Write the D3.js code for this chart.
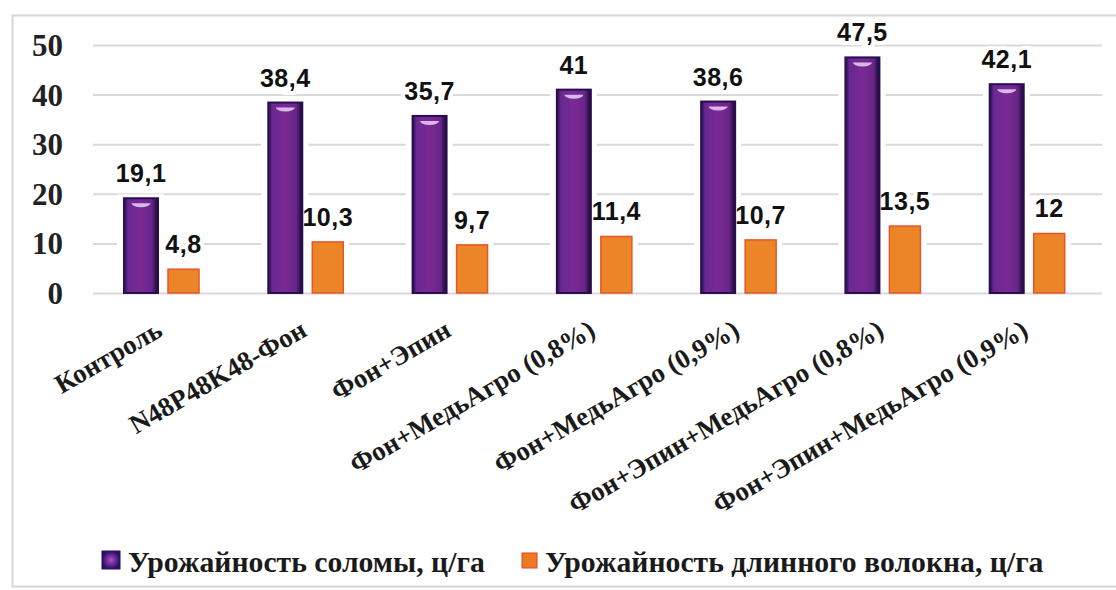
<!doctype html>
<html>
<head>
<meta charset="utf-8">
<title>Урожайность</title>
<script src="https://cdn.jsdelivr.net/npm/d3@7"></script>
<style>
  body { margin: 0; background: #fff; }
  .serif { font-family: "Liberation Serif", "Times New Roman", "DejaVu Serif", serif; font-weight: bold; }
  .sans { font-family: "Liberation Sans", Arial, sans-serif; font-weight: bold; }
</style>
</head>
<body>
<script>
// data
const categories = ["Контроль", "N48P48K48-Фон", "Фон+Эпин", "Фон+МедьАгро (0,8%)",
  "Фон+МедьАгро (0,9%)", "Фон+Эпин+МедьАгро (0,8%)", "Фон+Эпин+МедьАгро (0,9%)"];
const straw = [19.1, 38.4, 35.7, 41, 38.6, 47.5, 42.1];
const fiber = [4.8, 10.3, 9.7, 11.4, 10.7, 13.5, 12];
const seriesNames = ["Урожайность соломы, ц/га", "Урожайность длинного волокна, ц/га"];
const yTicks = [0, 10, 20, 30, 40, 50];

const w = 1116, h = 590;

const svg = d3.select("body").append("svg")
  .attr("width", w).attr("height", h);

svg.append("rect").attr("width", w).attr("height", h).attr("fill", "#fff");

// outer frame
svg.append("rect")
  .attr("x", 12.5).attr("y", 15.5)
  .attr("width", 1130).attr("height", 571)
  .attr("fill", "none").attr("stroke", "#d6d6d6").attr("stroke-width", 2);

const defs = svg.append("defs");
const grad = defs.append("linearGradient").attr("id", "purp");
grad.append("stop").attr("offset", "0%").attr("stop-color", "#24104f");
grad.append("stop").attr("offset", "12%").attr("stop-color", "#6a2892");
grad.append("stop").attr("offset", "50%").attr("stop-color", "#782a94");
grad.append("stop").attr("offset", "82%").attr("stop-color", "#6a258a");
grad.append("stop").attr("offset", "100%").attr("stop-color", "#140830");

const rad = defs.append("radialGradient").attr("id", "purpLeg");
rad.append("stop").attr("offset", "0%").attr("stop-color", "#b04ad0");
rad.append("stop").attr("offset", "100%").attr("stop-color", "#2a1060");

// scales
const x = d3.scaleBand().domain(categories).range([90, 1100]);
const x1 = d3.scaleBand().domain([0, 1]).range([34, 111]).paddingInner(0.25);
const y = d3.scaleLinear().domain([0, 50]).range([293, 45]);

// grid
const grid = svg.append("g")
  .attr("transform", "translate(93,0)")
  .call(d3.axisLeft(y).tickValues(yTicks).tickSize(-(1102 - 93)).tickFormat(""));
grid.select(".domain").remove();
grid.selectAll("line").attr("stroke", "#d9d9d9").attr("stroke-width", 2);

// y tick labels
const yAxis = svg.append("g")
  .attr("transform", "translate(63,0)")
  .call(d3.axisLeft(y).tickValues(yTicks).tickSize(0).tickPadding(0));
yAxis.select(".domain").remove();
yAxis.attr("font-family", null).attr("font-size", null);
yAxis.selectAll("text")
  .attr("class", "serif")
  .style("font-size", "31px").attr("fill", "#222").attr("dy", "0.34em");

const rows = categories.map((c, i) => ({ cat: c, vals: [straw[i], fiber[i]] }));
const items = [];
rows.forEach(r => r.vals.forEach((v, k) => items.push({ cat: r.cat, v, k })));
const fmt = v => String(v).replace(".", ",");
const bx = d => x(d.cat) + x1(d.k);
const bw = d => d.k === 0 ? x1.bandwidth() + 1 : x1.bandwidth() - 2;

// white halos cutting the grid around labels and bars
svg.append("g").selectAll("text").data(items).enter().append("text")
  .attr("class", "sans")
  .attr("x", d => bx(d) + bw(d) / 2)
  .attr("y", d => y(d.v) - 16)
  .attr("text-anchor", "middle")
  .style("font-size", "25px").attr("letter-spacing", 0.5)
  .attr("fill", "#fff").attr("stroke", "#fff").attr("stroke-width", 8)
  .text(d => fmt(d.v));

svg.append("g").selectAll("rect").data(items).enter().append("rect")
  .attr("x", d => bx(d) - 7)
  .attr("y", d => y(d.v) - 4)
  .attr("width", d => bw(d) + 13)
  .attr("height", d => y(0) - y(d.v) + 2)
  .attr("fill", "#fff");

// bars
svg.append("g").selectAll("rect").data(items).enter().append("rect")
  .attr("x", bx)
  .attr("y", d => y(d.v))
  .attr("width", bw)
  .attr("height", d => y(0) - y(d.v))
  .attr("fill", d => d.k === 0 ? "url(#purp)" : "#ec8428")
  .attr("stroke", d => d.k === 0 ? "#2a0f50" : "#e4572a")
  .attr("stroke-width", d => d.k === 0 ? 2 : 1.5);

// glossy highlight on purple bars
svg.append("g").selectAll("path").data(items.filter(d => d.k === 0)).enter().append("path")
  .attr("d", d => {
    const cx = bx(d) + bw(d) / 2, ty = y(d.v) + 5, rx = bw(d) * 0.28;
    return `M${cx - rx},${ty} A${rx},4 0 0 0 ${cx + rx},${ty} Z`;
  })
  .attr("fill", "#e7c6f2").attr("opacity", 0.9);

// value labels
svg.append("g").selectAll("text").data(items).enter().append("text")
  .attr("class", "sans")
  .attr("x", d => bx(d) + bw(d) / 2)
  .attr("y", d => y(d.v) - 16)
  .attr("text-anchor", "middle")
  .style("font-size", "25px").attr("letter-spacing", 0.5)
  .attr("fill", "#111")
  .text(d => fmt(d.v));

// rotated category labels
svg.append("g").selectAll("text").data(categories).enter().append("text")
  .attr("class", "serif")
  .attr("transform", d => `translate(${x(d) + x.bandwidth() / 2 + 2},335) rotate(-30)`)
  .attr("text-anchor", "end")
  .style("font-size", "27px").attr("fill", "#1a1a1a")
  .text(d => d);

// legend
const legX = [102, 522];
const leg = svg.append("g").selectAll("g").data(seriesNames).enter().append("g")
  .attr("transform", (d, i) => `translate(${legX[i]},0)`);
leg.append("rect")
  .attr("y", (d, i) => i === 0 ? 551 : 553)
  .attr("width", (d, i) => i === 0 ? 18 : 15)
  .attr("height", (d, i) => i === 0 ? 18 : 15)
  .attr("fill", (d, i) => i === 0 ? "url(#purpLeg)" : "#ec7a22")
  .attr("stroke", (d, i) => i === 0 ? "#2a1060" : "#e4402a")
  .attr("stroke-width", 1);
leg.append("text")
  .attr("class", "serif")
  .attr("x", (d, i) => i === 0 ? 26 : 23)
  .attr("y", 572)
  .style("font-size", "29.7px").attr("fill", "#1a1a1a")
  .text(d => d);
</script>
</body>
</html>
